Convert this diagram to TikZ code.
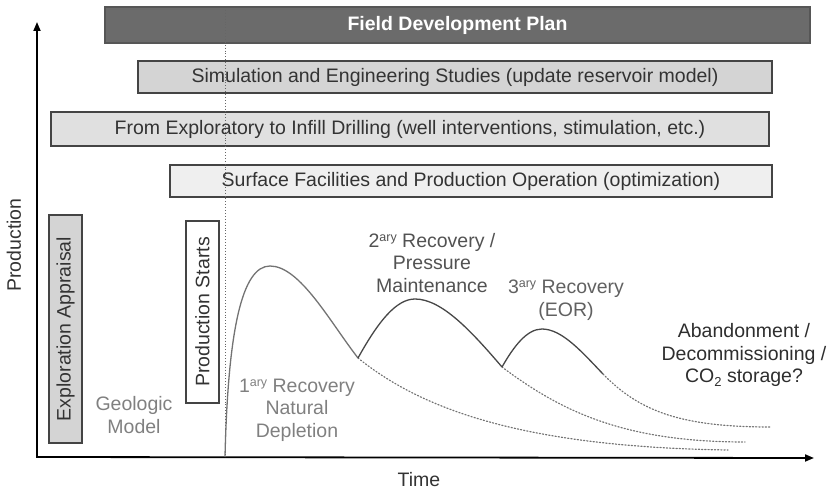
\documentclass[tikz,border=0pt]{standalone}
\usepackage{fontspec}
\setmainfont{Liberation Sans}
\usetikzlibrary{arrows.meta}
\definecolor{fdp}{HTML}{6B6B6B}
\definecolor{simfill}{HTML}{D4D4D4}
\definecolor{drillfill}{HTML}{E0E0E0}
\definecolor{surffill}{HTML}{EFEFEF}
\definecolor{boxline}{HTML}{444444}
\definecolor{txt}{HTML}{333333}
\newcommand{\sz}{\fontsize{19.5}{22.5}\selectfont}
\newcommand{\ary}{\raisebox{0.55ex}{\fontsize{12.5}{12.5}\selectfont ary}}
\begin{document}
\begin{tikzpicture}[x=1pt,y=-1pt,
  bar/.style={draw=boxline, line width=1.1pt, inner sep=0pt, text=txt, font=\sz, align=center},
  lbl/.style={inner sep=0pt, font=\sz, align=center},
  axis/.style={line width=1.8pt, -{Triangle[length=9pt,width=7pt]}},
  prim/.style={draw=black!55, line width=1.3pt},
  sec/.style={draw=black!72, line width=1.3pt},
  trail/.style={draw=black!55, line width=1.2pt, dotted, line cap=round}]
\useasboundingbox (0,0) rectangle (827,492);
% bars
\node[bar, fill=fdp, text=white, font=\sz\bfseries, minimum width=705pt, minimum height=36pt, draw=fdp!80!black] (fdp) at (457.5,25) {Field Development Plan};
\node[bar, fill=simfill, minimum width=634pt, minimum height=32pt] (sim) at (455,77) {Simulation and Engineering Studies (update reservoir model)};
\node[bar, fill=drillfill, minimum width=718pt, minimum height=34pt] (drill) at (410,129) {From Exploratory to Infill Drilling (well interventions, stimulation, etc.)};
\node[bar, fill=surffill, minimum width=602pt, minimum height=32pt] (surf) at (471,181) {Surface Facilities and Production Operation (optimization)};
% vertical boxes
\node[bar, fill=simfill, minimum width=228pt, minimum height=33pt, rotate=90] (expl) at (65.5,329) {Exploration Appraisal};
\node[bar, fill=white, minimum width=182pt, minimum height=33pt, rotate=90] (pstart) at (202.5,312) {Production Starts};
% dotted vertical line
\coordinate (vtop) at (225,10);
\coordinate (vbot) at (225,457);
\draw[black!60, line width=0.9pt, dotted] (vtop) -- (vbot);
% axes
\coordinate (origin) at (37,457);
\coordinate (ytip) at (37,22);
\coordinate (xtip) at (814,458);
\draw[axis] (origin) -- (ytip);
\draw[axis] ([xshift=-0.9pt]origin) -- (xtip);
\node[lbl, rotate=90, text=txt] (ylab) at (14,245) {Production};
\node[lbl, text=txt] (xlab) at (419,480) {Time};
% curve points
\coordinate (p0) at (225,457);
\coordinate (p1) at (270,266);
\coordinate (p2) at (358,358);
\coordinate (p3) at (415,299);
\coordinate (p4) at (502,367);
\coordinate (p5) at (542,329);
\coordinate (p6) at (603,374);
\coordinate (e1) at (728,450);
\coordinate (e2) at (745,442);
\coordinate (e3) at (771,427);
% primary
\draw[prim] (p0) .. controls (228,330) and (242,266) .. (p1) .. controls (300,266) and (330,322) .. (p2);
\draw[trail] (p2) .. controls (420,408) and (520,447) .. (e1);
% secondary
\draw[sec] (p2) .. controls (378,322) and (396,299) .. (p3) .. controls (442,299) and (472,332) .. (p4);
\draw[trail] (p4) .. controls (562,412) and (625,442) .. (e2);
% tertiary
\draw[sec] (p4) .. controls (514,346) and (527,329) .. (p5) .. controls (562,329) and (582,352) .. (p6);
\draw[trail] (p6) .. controls (640,412) and (682,427) .. (e3);
% labels
\node[lbl, text=black!50] (geo) at (134,415) {Geologic\\Model};
\node[lbl, text=black!50] (r1) at (297,410) {1\ary{} Recovery\\Natural\\Depletion};
\node[lbl, text=black!68] (r2) at (432,263) {2\ary{} Recovery /\\Pressure\\Maintenance};
\node[lbl, text=black!62] (r3) at (566,300) {3\ary{} Recovery\\(EOR)};
\node[lbl, text=black!82] (ab) at (744,355) {Abandonment /\\Decommissioning /\\CO\raisebox{-0.35ex}{\fontsize{13}{13}\selectfont 2} storage?};
\end{tikzpicture}
\end{document}
